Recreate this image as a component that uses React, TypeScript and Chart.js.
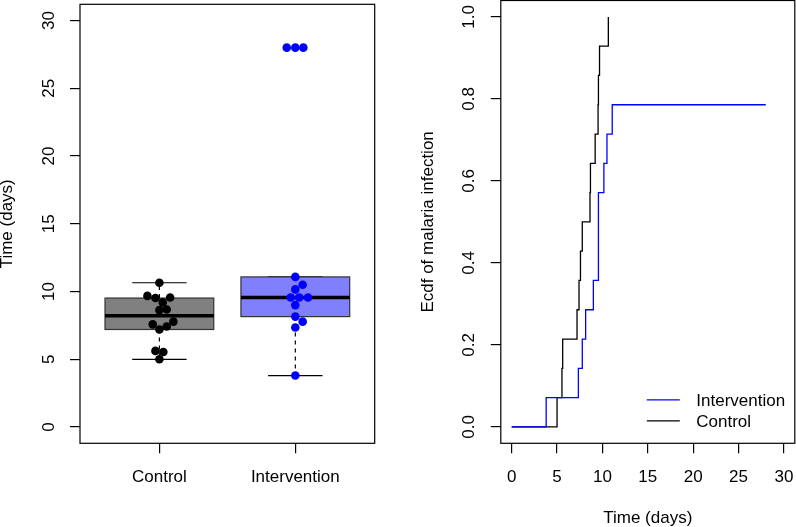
import React, { useEffect, useRef } from "react";
import { Chart, registerables } from "chart.js";

Chart.register(...registerables);

// ---------- data ----------
const groups = ["Control", "Intervention"];
const controlDays = [10.65, 9.68, 9.52, 9.56, 9.2, 8.63, 8.68, 7.58, 7.78, 7.2, 7.42, 5.62, 5.54, 5.0];
const controlSwarm = [0, -0.088, -0.029, 0.079, 0.025, 0, 0.054, -0.049, 0.103, 0, 0.054, -0.029, 0.029, 0];
const interventionDays = [11.08, 10.5, 10.16, 9.56, 9.56, 9.56, 9.0, 8.15, 7.78, 7.35, 3.8, 28, 28, 28];
const interventionSwarm = [0, 0.054, 0, -0.034, 0.029, 0.093, 0, 0, 0.054, 0, 0, -0.063, 0, 0.059];
const censorDay = 28;
const timeTicks = [0, 5, 10, 15, 20, 25, 30];
const ecdfTicks = [0, 0.2, 0.4, 0.6, 0.8, 1.0];
const groupTicks = [1, 2];

const FONT = '17px "Liberation Sans", Arial, Helvetica, sans-serif';
const BLUE = "#0000ff";

// ---------- helpers ----------
function fivenum(v: number[]) {
  const s = [...v].sort((a, b) => a - b);
  const n = s.length;
  const n4 = Math.floor((n + 3) / 2) / 2;
  const d = [1, n4, (n + 1) / 2, n + 1 - n4, n];
  return d.map((p) => 0.5 * (s[Math.floor(p) - 1] + s[Math.ceil(p) - 1]));
}
function boxStats(v: number[]) {
  const [, q1, med, q3] = fivenum(v);
  const iqr = q3 - q1;
  const lo = Math.min(...v.filter((x) => x >= q1 - 1.5 * iqr));
  const hi = Math.max(...v.filter((x) => x <= q3 + 1.5 * iqr));
  return { q1, med, q3, lo, hi };
}
function ecdfPoints(v: number[], censor: number) {
  const n = v.length;
  const events = v.filter((x) => x < censor).sort((a, b) => a - b);
  const pts: { x: number; y: number }[] = [{ x: 0, y: 0 }];
  events.forEach((x, i) => pts.push({ x, y: (i + 1) / n }));
  const maxV = Math.max(...v);
  if (maxV >= censor) pts.push({ x: maxV, y: events.length / n });
  return pts;
}

function scaleCfg(min: number, max: number, ticks: number[], vertical: boolean) {
  return {
    type: "linear",
    min,
    max,
    bounds: "data",
    afterBuildTicks: (s: any) => {
      s.ticks = ticks.map((value) => ({ value }));
    },
    afterFit: (s: any) => {
      if (vertical) s.width = 0;
      else s.height = 0;
    },
    grid: {
      display: true,
      drawOnChartArea: false,
      drawTicks: true,
      tickLength: 10,
      color: "#000",
      lineWidth: 1.2,
    },
    border: { display: false },
    ticks: { display: false },
  };
}

function axesPlugin(opts: {
  xLabels: { v: number; t: string }[];
  yLabels: { v: number; t: string }[];
  xTitle?: string;
  yTitle: string;
}) {
  return {
    id: "axesText",
    afterDraw(chart: any) {
      const { ctx, chartArea: a, scales } = chart;
      const x = scales.x;
      const y = scales.y;
      ctx.save();
      // frame
      ctx.strokeStyle = "#000";
      ctx.lineWidth = 1.2;
      ctx.strokeRect(a.left, a.top, a.right - a.left, a.bottom - a.top);
      ctx.fillStyle = "#000";
      ctx.font = FONT;
      // x labels
      ctx.textAlign = "center";
      ctx.textBaseline = "alphabetic";
      opts.xLabels.forEach(({ v, t }) => {
        ctx.fillText(t, x.getPixelForValue(v), a.bottom + 38.5);
      });
      if (opts.xTitle) {
        ctx.fillText(opts.xTitle, (a.left + a.right) / 2, a.bottom + 79.5);
      }
      // y labels rotated
      opts.yLabels.forEach(({ v, t }) => {
        ctx.save();
        ctx.translate(a.left - 26.5, y.getPixelForValue(v));
        ctx.rotate(-Math.PI / 2);
        ctx.fillText(t, 0, 0);
        ctx.restore();
      });
      ctx.save();
      ctx.translate(a.left - 68, (a.top + a.bottom) / 2);
      ctx.rotate(-Math.PI / 2);
      ctx.fillText(opts.yTitle, 0, 0);
      ctx.restore();
      ctx.restore();
    },
  };
}

const boxPlugin = {
  id: "boxes",
  beforeDatasetsDraw(chart: any) {
    const { ctx, scales } = chart;
    const x = scales.x;
    const y = scales.y;
    const fills = ["#808080", "#8080ff"];
    [controlDays, interventionDays].forEach((vals, i) => {
      const st = boxStats(vals);
      const c = i + 1;
      const xl = x.getPixelForValue(c - 0.4);
      const xr = x.getPixelForValue(c + 0.4);
      const xc = x.getPixelForValue(c);
      const cl = x.getPixelForValue(c - 0.2);
      const cr = x.getPixelForValue(c + 0.2);
      const yq1 = y.getPixelForValue(st.q1);
      const yq3 = y.getPixelForValue(st.q3);
      const ym = y.getPixelForValue(st.med);
      const ylo = y.getPixelForValue(st.lo);
      const yhi = y.getPixelForValue(st.hi);
      ctx.save();
      ctx.strokeStyle = "#000";
      // whiskers dashed
      ctx.lineWidth = 1.2;
      ctx.setLineDash([4, 4]);
      ctx.beginPath();
      ctx.moveTo(xc, yq1);
      ctx.lineTo(xc, ylo);
      ctx.moveTo(xc, yq3);
      ctx.lineTo(xc, yhi);
      ctx.stroke();
      ctx.setLineDash([]);
      // caps
      ctx.beginPath();
      ctx.moveTo(cl, ylo);
      ctx.lineTo(cr, ylo);
      ctx.moveTo(cl, yhi);
      ctx.lineTo(cr, yhi);
      ctx.stroke();
      // box
      ctx.fillStyle = fills[i];
      ctx.fillRect(xl, yq3, xr - xl, yq1 - yq3);
      ctx.strokeStyle = "#333";
      ctx.strokeRect(xl, yq3, xr - xl, yq1 - yq3);
      // median
      ctx.strokeStyle = "#000";
      ctx.lineWidth = 3.5;
      ctx.beginPath();
      ctx.moveTo(xl, ym);
      ctx.lineTo(xr, ym);
      ctx.stroke();
      ctx.restore();
    });
  },
};

const legendPlugin = {
  id: "ecdfLegend",
  afterDraw(chart: any) {
    const { ctx, chartArea: a } = chart;
    const rows = [
      { t: "Intervention", c: BLUE, dy: 43.5 },
      { t: "Control", c: "#000", dy: 22.5 },
    ];
    ctx.save();
    ctx.font = FONT;
    ctx.textAlign = "left";
    ctx.textBaseline = "alphabetic";
    rows.forEach((r) => {
      const yy = a.bottom - r.dy;
      ctx.strokeStyle = r.c;
      ctx.lineWidth = 1.3;
      ctx.beginPath();
      ctx.moveTo(a.right - 148, yy);
      ctx.lineTo(a.right - 115, yy);
      ctx.stroke();
      ctx.fillStyle = "#000";
      ctx.fillText(r.t, a.right - 98.5, yy + 6.5);
    });
    ctx.restore();
  },
};

export default function App() {
  const leftRef = useRef<HTMLCanvasElement | null>(null);
  const rightRef = useRef<HTMLCanvasElement | null>(null);

  useEffect(() => {
    const left = new Chart(leftRef.current as HTMLCanvasElement, {
      type: "scatter",
      data: {
        datasets: [
          {
            label: groups[0],
            data: controlDays.map((v, i) => ({ x: 1 + controlSwarm[i], y: v })),
            backgroundColor: "#000",
            borderColor: "#000",
            pointRadius: 4.3,
            borderWidth: 0,
          },
          {
            label: groups[1],
            data: interventionDays.map((v, i) => ({ x: 2 + interventionSwarm[i], y: v })),
            backgroundColor: BLUE,
            borderColor: BLUE,
            pointRadius: 4.3,
            borderWidth: 0,
          },
        ],
      },
      options: {
        responsive: false,
        maintainAspectRatio: false,
        animation: false,
        devicePixelRatio: 1,
        layout: { padding: { left: 80, right: 421.3, top: 0.5, bottom: 83.7 } },
        plugins: { legend: { display: false }, tooltip: { enabled: false } },
        events: [],
        scales: {
          x: scaleCfg(0.416, 2.584, groupTicks, false),
          y: scaleCfg(-1.2, 31.2, timeTicks, true),
        } as any,
      },
      plugins: [
        boxPlugin,
        axesPlugin({
          xLabels: groupTicks.map((v, i) => ({ v, t: groups[i] })),
          yLabels: timeTicks.map((v) => ({ v, t: String(v) })),
          yTitle: "Time (days)",
        }),
      ],
    } as any);

    const right = new Chart(rightRef.current as HTMLCanvasElement, {
      type: "scatter",
      data: {
        datasets: [
          {
            label: "Intervention",
            data: ecdfPoints(interventionDays, censorDay),
            showLine: true,
            stepped: true,
            borderColor: BLUE,
            borderWidth: 1.3,
            pointRadius: 0,
            fill: false,
          },
          {
            label: "Control",
            data: ecdfPoints(controlDays, censorDay),
            showLine: true,
            stepped: true,
            borderColor: "#000",
            borderWidth: 1.3,
            pointRadius: 0,
            fill: false,
          },
        ],
      },
      options: {
        responsive: false,
        maintainAspectRatio: false,
        animation: false,
        devicePixelRatio: 1,
        layout: { padding: { left: 500.8, right: 1.2, top: 0.5, bottom: 83.7 } },
        plugins: { legend: { display: false }, tooltip: { enabled: false } },
        events: [],
        scales: {
          x: scaleCfg(-1.2, 31.2, timeTicks, false),
          y: scaleCfg(-0.04, 1.04, ecdfTicks, true),
        } as any,
      },
      plugins: [
        axesPlugin({
          xLabels: timeTicks.map((v) => ({ v, t: String(v) })),
          yLabels: ecdfTicks.map((v) => ({ v, t: v.toFixed(1) })),
          xTitle: "Time (days)",
          yTitle: "Ecdf of malaria infection",
        }),
        legendPlugin,
      ],
    } as any);

    return () => {
      left.destroy();
      right.destroy();
    };
  }, []);

  const cs: React.CSSProperties = {
    position: "absolute",
    left: 0,
    top: 0,
    width: 796,
    height: 527,
  };
  return (
    <div
      style={{
        position: "fixed",
        left: 0,
        top: 0,
        width: 796,
        height: 527,
        background: "#fff",
      }}
    >
      <canvas ref={leftRef} width={796} height={527} style={cs} />
      <canvas ref={rightRef} width={796} height={527} style={cs} />
    </div>
  );
}
